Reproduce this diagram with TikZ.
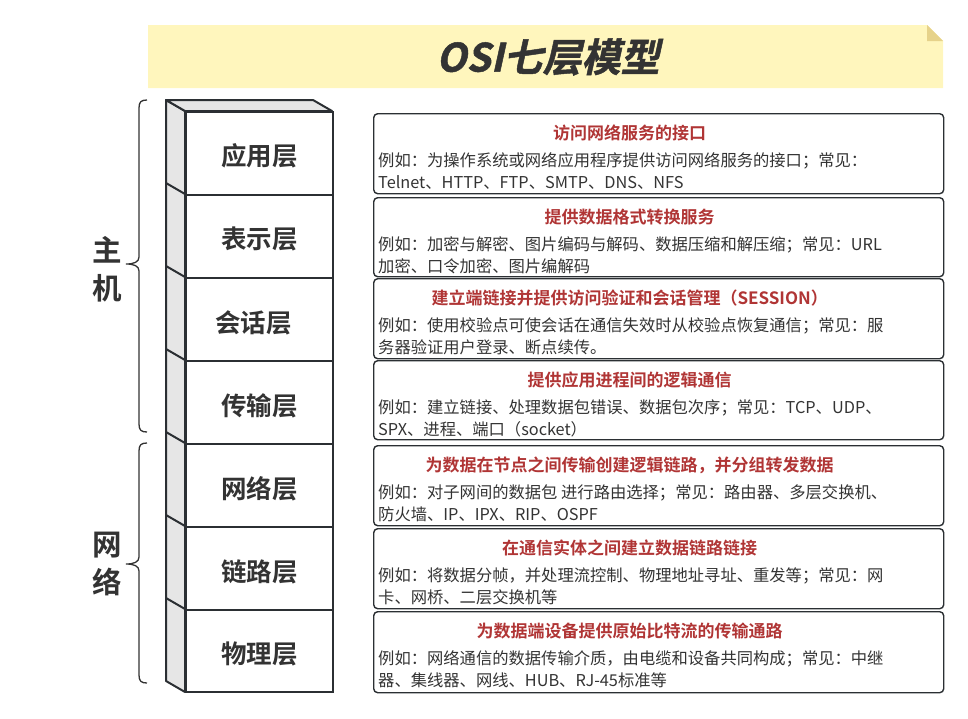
\documentclass[tikz,border=0pt]{standalone}
\usepackage{fontspec}
\setmainfont{Noto Sans CJK SC}[BoldFont={* Bold}]
\newfontfamily\titlefont{Noto Sans CJK SC}[UprightFont={* Bold},FakeSlant=0.22,FakeBold=1.2]
\definecolor{ink}{HTML}{2B2F33}
\definecolor{txt}{HTML}{333333}
\definecolor{headred}{HTML}{B03535}
\definecolor{banner}{HTML}{FFF6BD}
\definecolor{fold}{HTML}{E6D28A}
\definecolor{sidegray}{HTML}{E6E6E6}
\tikzset{
  layerbox/.style={draw=ink, line width=2pt, fill=white, minimum width=147pt, minimum height=83pt, inner sep=0pt},
  sideface/.style={draw=ink, line width=2pt, fill=sidegray, line join=round},
  infobox/.style={draw=ink, line width=1.4pt, rounded corners=4pt, minimum width=570pt, inner sep=0pt},
  headtext/.style={anchor=base, inner sep=0pt, text=headred, font=\bfseries\fontsize{17}{20}\selectfont},
  bodytext/.style={anchor=base west, inner sep=0pt, text=txt, font=\fontsize{16.3}{22}\selectfont},
  bracepath/.style={draw=txt, line width=1.3pt},
  sidelabel/.style={text=txt, inner sep=0pt, align=center, font=\bfseries\fontsize{29.5}{38}\selectfont},
  lbl/.style={inner sep=0pt, text=txt, font=\bfseries\fontsize{25.5}{28}\selectfont},
}
\newcommand{\osibox}[6]{%
  \node[infobox, minimum height=#3pt, anchor=north west] (#1) at (373,#2) {};
  \node[headtext] (#1h) at ([xshift=-29pt,yshift=-26.5pt]#1.north) {#4};
  \node[bodytext] (#1a) at ([xshift=5pt,yshift=-53pt]#1.north west) {#5};
  \node[bodytext] (#1b) at ([xshift=5pt,yshift=-75pt]#1.north west) {#6};
}
\begin{document}
\begin{tikzpicture}[x=1pt,y=-1pt]
\useasboundingbox (0,0) rectangle (968,718);
% banner
\fill[banner] (148,25) -- (927,25) -- (943,41) -- (943,88) -- (148,88) -- cycle;
\fill[fold] (927,25) -- (943,41) -- (927,41) -- cycle;
\node[inner sep=0pt, text=txt, font=\titlefont\fontsize{39}{42}\selectfont] (title) at (548,57) {OSI七层模型};
% side and top faces
\filldraw[sideface] (166,100) -- (185,111) -- (185,692) -- (166,681) -- cycle;
\filldraw[sideface] (166,100) -- (313,100) -- (332,111) -- (185,111) -- cycle;
\foreach \y in {194,277,360,443,526,609} {
  \draw[ink, line width=2pt] (166,\y-11) -- (185,\y);
}
% layers
\node[layerbox, anchor=north west] (L1) at (185,111) {};
\node[layerbox, anchor=north west] (L2) at (185,194) {};
\node[layerbox, anchor=north west] (L3) at (185,277) {};
\node[layerbox, anchor=north west] (L4) at (185,360) {};
\node[layerbox, anchor=north west] (L5) at (185,443) {};
\node[layerbox, anchor=north west] (L6) at (185,526) {};
\node[layerbox, anchor=north west, minimum height=82pt] (L7) at (185,609) {};
\node[lbl] (T1) at ([yshift=-2pt]L1.center) {应用层};
\node[lbl] (T2) at ([yshift=-2pt]L2.center) {表示层};
\node[lbl] (T3) at ([xshift=-6pt,yshift=-3pt]L3.center) {会话层};
\node[lbl] (T4) at ([yshift=-3pt]L4.center) {传输层};
\node[lbl] (T5) at ([yshift=-3pt]L5.center) {网络层};
\node[lbl] (T6) at ([yshift=-3pt]L6.center) {链路层};
\node[lbl] (T7) at ([yshift=-3pt]L7.center) {物理层};
% braces
\draw[bracepath] (147,100) .. controls (141,100) and (139,102) .. (139,108) -- (139,257) .. controls (139,262) and (134,264) .. (126,264) .. controls (134,264) and (139,266) .. (139,271) -- (139,424) .. controls (139,430) and (141,432) .. (147,432);
\draw[bracepath] (147,443) .. controls (141,443) and (139,445) .. (139,451) -- (139,557) .. controls (139,562) and (134,564) .. (126,564) .. controls (134,564) and (139,566) .. (139,571) -- (139,675) .. controls (139,681) and (141,683) .. (147,683);
\node[sidelabel] (host) at (107,269) {主\\机};
\node[sidelabel] (net) at (107,564) {网\\络};
% info boxes
\osibox{B1}{113}{80}{访问网络服务的接口}{例如：为操作系统或网络应用程序提供访问网络服务的接口；常见：}{Telnet、HTTP、FTP、SMTP、DNS、NFS}
\osibox{B2}{197}{79}{提供数据格式转换服务}{例如：加密与解密、图片编码与解码、数据压缩和解压缩；常见：URL}{加密、口令加密、图片编解码}
\osibox{B3}{278}{80}{建立端链接并提供访问验证和会话管理（SESSION）}{例如：使用校验点可使会话在通信失效时从校验点恢复通信；常见：服}{务器验证用户登录、断点续传。}
\osibox{B4}{360}{79}{提供应用进程间的逻辑通信}{例如：建立链接、处理数据包错误、数据包次序；常见：TCP、UDP、}{SPX、进程、端口（socket）}
\osibox{B5}{445}{80}{为数据在节点之间传输创建逻辑链路，并分组转发数据}{例如：对子网间的数据包 进行路由选择；常见：路由器、多层交换机、}{防火墙、IP、IPX、RIP、OSPF}
\osibox{B6}{528}{80}{在通信实体之间建立数据链路链接}{例如：将数据分帧，并处理流控制、物理地址寻址、重发等；常见：网}{卡、网桥、二层交换机等}
\osibox{B7}{611}{81}{为数据端设备提供原始比特流的传输通路}{例如：网络通信的数据传输介质，由电缆和设备共同构成；常见：中继}{器、集线器、网线、HUB、RJ-45标准等}
\end{tikzpicture}
\end{document}
